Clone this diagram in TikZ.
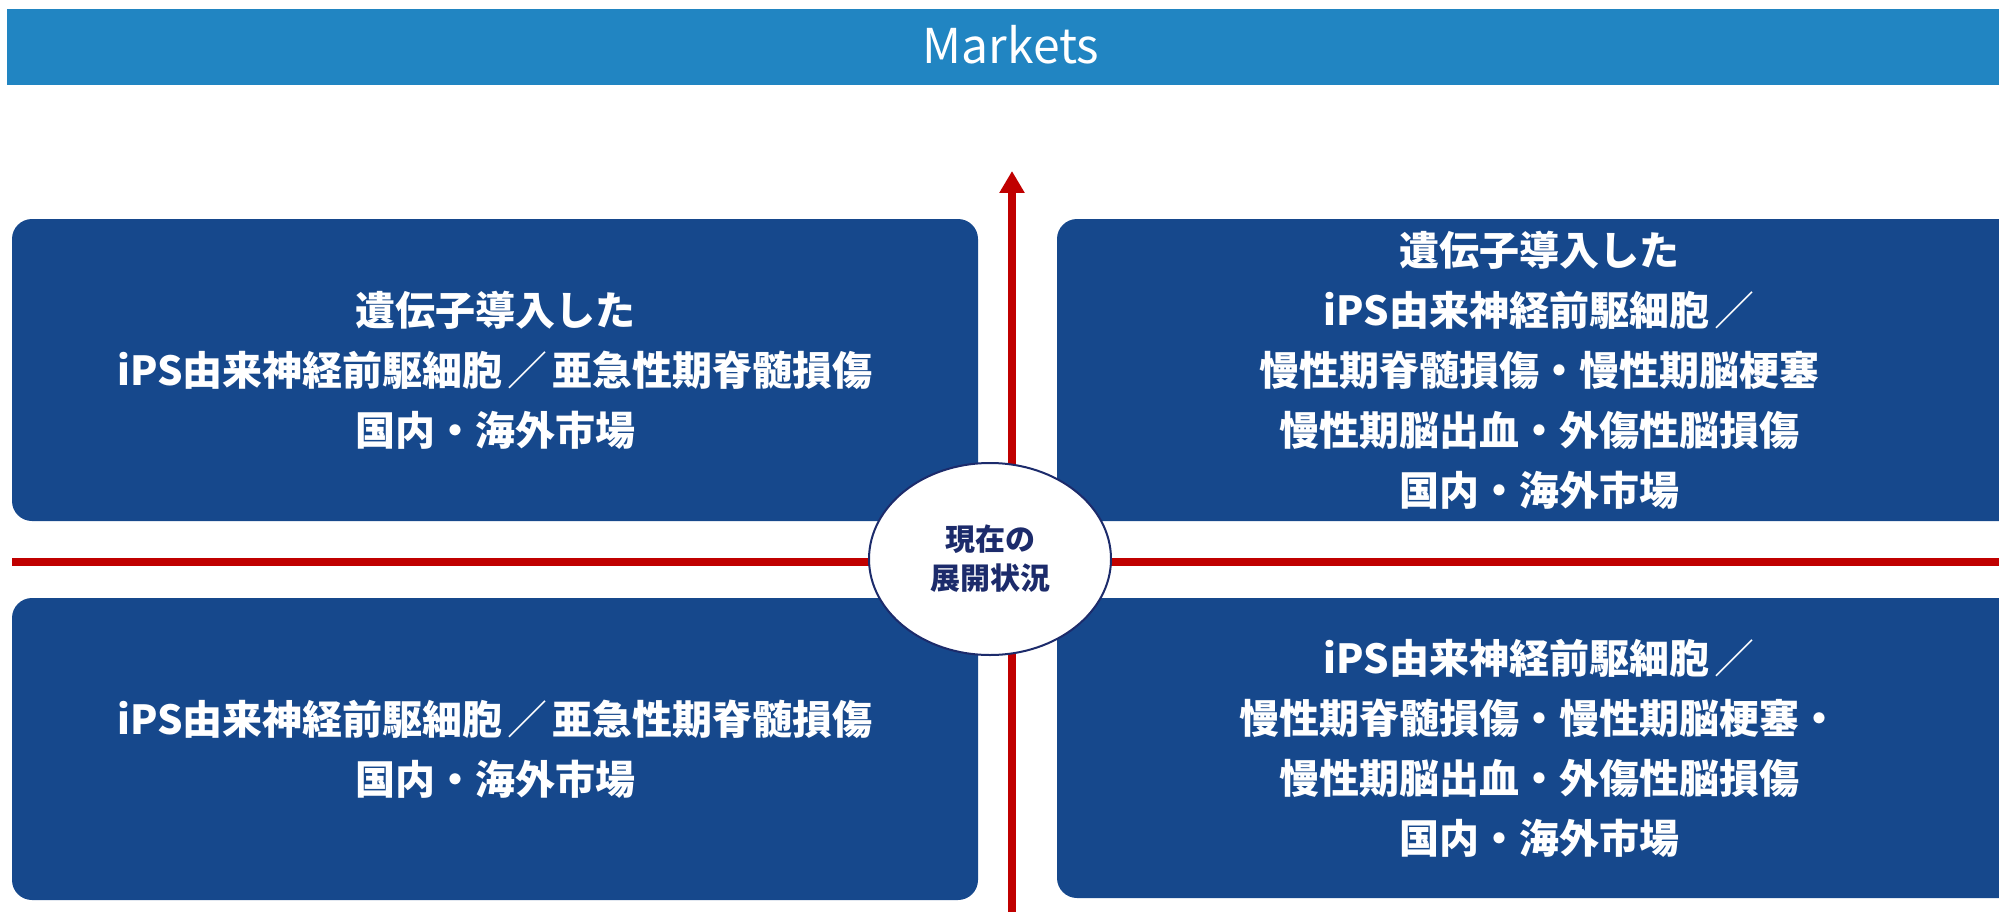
\documentclass[tikz,border=0pt]{standalone}
\usepackage{fontspec}
\setmainfont{Noto Sans CJK JP}
\usetikzlibrary{shapes.geometric,arrows.meta}
\definecolor{barblue}{HTML}{2185C2}
\definecolor{boxblue}{HTML}{16488C}
\definecolor{axisred}{HTML}{C00000}
\definecolor{navy}{HTML}{1C2B6B}
\tikzset{
  quadbox/.style={fill=boxblue, draw=none, rounded corners=20pt, text=white,
    align=center, inner sep=0pt, font=\fontsize{40}{60}\selectfont\bfseries},
  axisline/.style={draw=axisred, line width=8pt},
  centre/.style={ellipse, draw=navy, line width=2pt, fill=white, text=navy,
    minimum width=242pt, minimum height=192pt, inner sep=0pt, align=center,
    font=\fontsize{30}{39}\selectfont\bfseries},
}
\newcommand{\jslash}{{\mdseries\hspace{0.12em}／\hspace{0.12em}}}
\begin{document}
\begin{tikzpicture}[x=1pt,y=-1pt]
\useasboundingbox (0,0) rectangle (1999,912);
\clip (0,0) rectangle (1999,912);
% header bar
\node[fill=barblue, minimum width=2008pt, minimum height=76pt, inner sep=0pt] (bar) at (1011,47) {};
\node[text=white, font=\fontsize{48}{48}\selectfont] (mk) at (1011,45) {Markets};
% axes
\coordinate (hl) at (12,562);
\coordinate (hr) at (2005,562);
\coordinate (vb) at (1012,920);
\coordinate (vt) at (1012,171);
\draw[axisline] (hl) -- (hr);
\draw[axisline, -{Triangle[width=24pt,length=22pt]}] (vb) -- (vt);
% quadrants
\node[quadbox, minimum width=966pt, minimum height=302pt] (tl) at (495,370)
  {遺伝子導入した\\iPS由来神経前駆細胞\jslash 亜急性期脊髄損傷\\国内・海外市場};
\node[quadbox, minimum width=964pt, minimum height=302pt] (tr) at (1539,370)
  {遺伝子導入した\\iPS由来神経前駆細胞\jslash\\慢性期脊髄損傷・慢性期脳梗塞\\慢性期脳出血・外傷性脳損傷\\国内・海外市場};
\node[quadbox, minimum width=966pt, minimum height=302pt] (bl) at (495,749)
  {iPS由来神経前駆細胞\jslash 亜急性期脊髄損傷\\国内・海外市場};
\node[quadbox, minimum width=964pt, minimum height=300pt] (br) at (1539,748)
  {iPS由来神経前駆細胞\jslash\\慢性期脊髄損傷・慢性期脳梗塞・\\慢性期脳出血・外傷性脳損傷\\国内・海外市場};
% centre
\node[centre] (c) at (990,559) {現在の\\展開状況};
\end{tikzpicture}
\end{document}
